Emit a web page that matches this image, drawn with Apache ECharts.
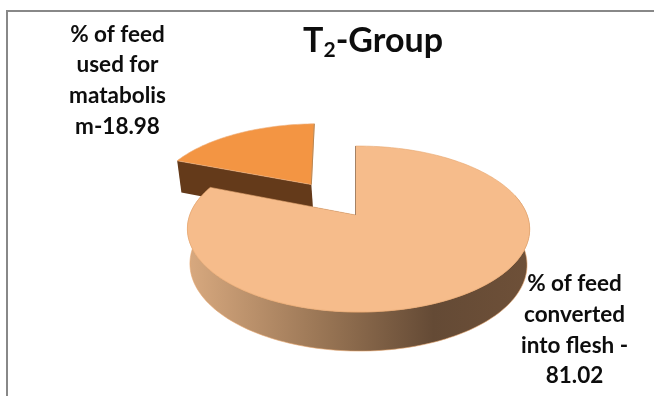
<!DOCTYPE html>
<html>
<head>
<meta charset="utf-8">
<style>html,body{margin:0;padding:0;background:#fff}#chart{width:654px;height:396px}</style>
<script src="https://cdn.jsdelivr.net/npm/echarts@6/dist/echarts.min.js"></script>
</head>
<body>
<div id="chart"></div>
<script>
// Shares of the feed, in percent
const sliceShares = [81.02, 18.98];
// Label text ahead of each share
const sliceLabels = ['% of feed\nconverted\ninto flesh -\n', '% of feed\nused for\nmatabolis\nm-'];
// Distance each slice is pulled out from the centre, in pie radii
const sliceExplode = [0, 0.49];
const titleParts = ['T', '2', '-Group'];

// Projection of the tilted pie
const view = { x0: 355.5, y0: 215, rx: 168.6, ry: 80.6, k: 0.169, m: 0.0175, shrink: 0.985 };

function project(X, Y, lower) {
  const w = 1 - view.k * Y - view.m * X;
  const s = lower ? view.shrink : 1;
  return [
    view.x0 + s * view.rx * X / w,
    view.y0 + view.ry * Y / w + (lower ? 12.7 + 21.9 / w : 0)
  ];
}

const total = sliceShares.reduce((s, v) => s + v, 0);
const poly = (points, style, z2) => ({ type: 'polygon', shape: { points }, style, z2, silent: true });

const slicePalette = [
  {
    top: '#f6bc8b', edge: '#e8a770', cutFace: '#5f4632', seam: '#a58265',
    side: new echarts.graphic.LinearGradient(188, 0, 529, 0, [
      { offset: 0, color: '#d8a97f' },
      { offset: 0.42, color: '#957252' },
      { offset: 0.72, color: '#644a35' },
      { offset: 1, color: '#6e5038' }
    ], true)
  },
  { top: '#f39543', edge: '#ecae7c', cutFace: '#643a1a', seam: '#b98550', side: '#643a1a' }
];
const labelAnchor = [[574.5, 330], [117.5, 80.5]];
const sliceNudge = [0, -0.006];
// Horizontal lean of an exploded slice, which sits nearer the vanishing side of the view
const sliceLean = [0, 0.05];
// The wall is only drawn on the part of the rim turned towards the viewer
const wallFrom = Math.PI / 2 - 0.25;
const wallTo = 3 * Math.PI / 2 + 0.25;

function renderSlice(params, api) {
  const idx = params.dataIndex;
  const value = api.value(0);
  let before = 0;
  for (let i = 0; i < idx; i++) before += sliceShares[i];
  const a0 = before / total * 2 * Math.PI;
  const a1 = (before + value) / total * 2 * Math.PI;
  const mid = (a0 + a1) / 2;
  const e = sliceExplode[idx];
  const offX = e * Math.sin(mid) + sliceNudge[idx];
  const offY = -e * Math.cos(mid);
  const c = slicePalette[idx];
  const base = idx === 0 ? 10 : 0;
  const apexY = project(offX, offY, false)[1];

  const place = (X, Y, lower) => {
    const p = project(offX + X, offY + Y, lower);
    return [p[0] + sliceLean[idx] * (p[1] - apexY), p[1]];
  };
  // Point on the rim: clockwise angle a from 12 o'clock
  const rim = (a, lower) => place(Math.sin(a), -Math.cos(a), lower);
  const arc = (from, to, lower) => {
    const pts = [];
    const n = Math.max(8, Math.ceil((to - from) * 40));
    for (let i = 0; i <= n; i++) pts.push(rim(from + (to - from) * i / n, lower));
    return pts;
  };

  const apexT = place(0, 0, false);
  const apexB = place(0, 0, true);

  // radial face along the cut that looks towards the viewer, shared by both slices
  const cutAngle = idx === 0 ? a1 : a0;
  // seam along the 12 o'clock cut
  const seamEnd = rim(idx === 0 ? a0 : a1, false);

  const children = [
    poly([apexT, rim(cutAngle, false), rim(cutAngle, true), apexB], { fill: c.cutFace }, base + 1),
    poly([apexT].concat(arc(a0, a1, false)), { fill: c.top, stroke: c.edge, lineWidth: 0.6, lineJoin: 'round' }, base + 3),
    {
      type: 'line',
      silent: true,
      z2: base + 4,
      shape: { x1: apexT[0], y1: apexT[1], x2: seamEnd[0], y2: seamEnd[1] },
      style: { stroke: c.seam, lineWidth: 1 }
    },
    {
      type: 'text',
      x: labelAnchor[idx][0],
      y: labelAnchor[idx][1],
      z2: 30,
      silent: true,
      style: {
        text: sliceLabels[idx] + value.toFixed(2),
        fontFamily: 'Lato',
        fontWeight: 'bold',
        fontSize: 22.5,
        lineHeight: 30.6,
        fill: '#0d0d0d',
        align: 'center',
        verticalAlign: 'middle'
      }
    }
  ];

  const wA = Math.max(a0, wallFrom);
  const wB = Math.min(a1, wallTo);
  if (wB > wA) {
    const wallT = arc(wA, wB, false);
    const wallB = arc(wA, wB, true);
    children.push(poly(wallT.concat(wallB.reverse()), { fill: c.side, stroke: c.edge, lineWidth: 0.6 }, base));
  }
  return { type: 'group', children };
}

const chart = echarts.init(document.getElementById('chart'), null, { renderer: 'canvas' });
chart.setOption({
  animation: false,
  backgroundColor: '#ffffff',
  title: {
    text: '{m|' + titleParts[0] + '}{s|' + titleParts[1] + '}{m|' + titleParts[2] + '}',
    left: 368,
    top: 17,
    textAlign: 'center',
    textStyle: {
      rich: {
        m: { fontFamily: 'Lato', fontWeight: 'bold', fontSize: 34, color: '#0d0d0d' },
        s: { fontFamily: 'Lato', fontWeight: 'bold', fontSize: 21, color: '#0d0d0d', verticalAlign: 'bottom', padding: [18, 0, 0, 0] }
      }
    }
  },
  graphic: [{
    type: 'rect',
    silent: true,
    shape: { x: 7, y: 11, width: 800, height: 600 },
    style: { fill: 'none', stroke: '#888888', lineWidth: 2 }
  }],
  series: [{
    type: 'custom',
    coordinateSystem: 'none',
    silent: true,
    data: sliceShares.map(v => [v]),
    renderItem: renderSlice
  }]
});
</script>
</body>
</html>
